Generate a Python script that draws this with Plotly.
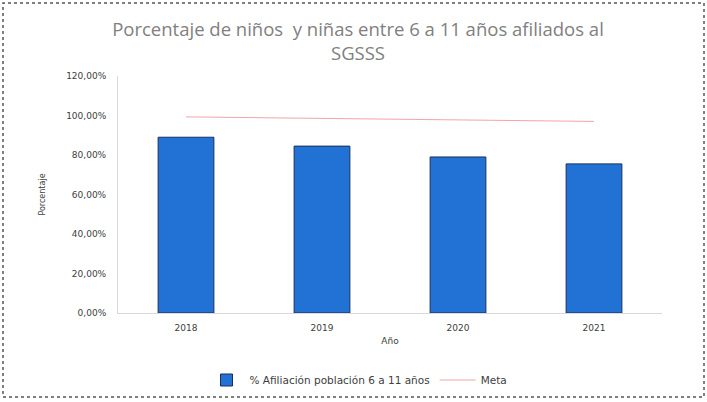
import plotly.graph_objects as go

years = ["2018", "2019", "2020", "2021"]
afiliacion = [89.0, 84.5, 79.0, 75.5]
meta = [99.3, 98.5, 97.7, 97.0]
ytick_vals = [0, 20, 40, 60, 80, 100, 120]
ytick_text = ["0,00%", "20,00%", "40,00%", "60,00%", "80,00%", "100,00%", "120,00%"]

# plot area in pixels: x 118..662, y 76..313
L, R, T, B = 118, 662, 76, 313
W, H = R - L, B - T

def px(x):
    return (x - L) / W

def py(y):
    return (B - y) / H

fig = go.Figure()
fig.add_trace(go.Bar(
    x=years, y=afiliacion, name="% Afiliación población 6 a 11 años",
    marker=dict(color="#2272d6", line=dict(color="#1a2f5a", width=1)),
    width=0.41,
))
fig.add_trace(go.Scatter(
    x=years, y=meta, name="Meta", mode="lines",
    line=dict(color="#f2a5a8", width=1),
))

fig.update_layout(
    width=707, height=402,
    margin=dict(l=L, r=707 - R, t=T, b=402 - B, autoexpand=False),
    paper_bgcolor="white", plot_bgcolor="white",
    font=dict(family="DejaVu Sans, sans-serif", color="#404040"),
    title=dict(
        text="Porcentaje de niños  y niñas entre 6 a 11 años afiliados al<br>SGSSS",
        x=358 / 707, xanchor="center", y=1 - 36 / 402, yanchor="top",
        font=dict(size=18.5, color="#808080", family="Open Sans, sans-serif"),
    ),
    xaxis=dict(
        showgrid=False, showline=True, linecolor="#d9d9d9", linewidth=1,
        tickfont=dict(size=9, color="#404040"),
        ticks="outside", ticklen=6, tickcolor="white",
        automargin=False,
        title=dict(text="Año", font=dict(size=9, color="#404040"), standoff=5),
    ),
    yaxis=dict(
        range=[0, 120], tickvals=ytick_vals, ticktext=ytick_text,
        showgrid=False, showline=True, linecolor="#d9d9d9", linewidth=1,
        tickfont=dict(size=9, color="#404040"),
        ticks="outside", ticklen=9, tickcolor="white",
        zeroline=False, automargin=False,
        title=dict(text="Porcentaje", font=dict(size=8, color="#404040"), standoff=19),
    ),
    legend=dict(
        orientation="h", x=px(358), xanchor="center", y=py(380), yanchor="middle",
        font=dict(size=10.5, color="#404040"), itemwidth=36,
    ),
    showlegend=True,
    shapes=[dict(
        type="rect", xref="paper", yref="paper",
        x0=px(3), x1=px(704), y0=py(397), y1=py(3),
        line=dict(color="#555555", width=1.5, dash="dot"),
    )],
)

fig.write_html(
    "out.html",
    config={"displayModeBar": False},
    post_script="document.body.style.margin='0';document.body.style.padding='0';",
)
